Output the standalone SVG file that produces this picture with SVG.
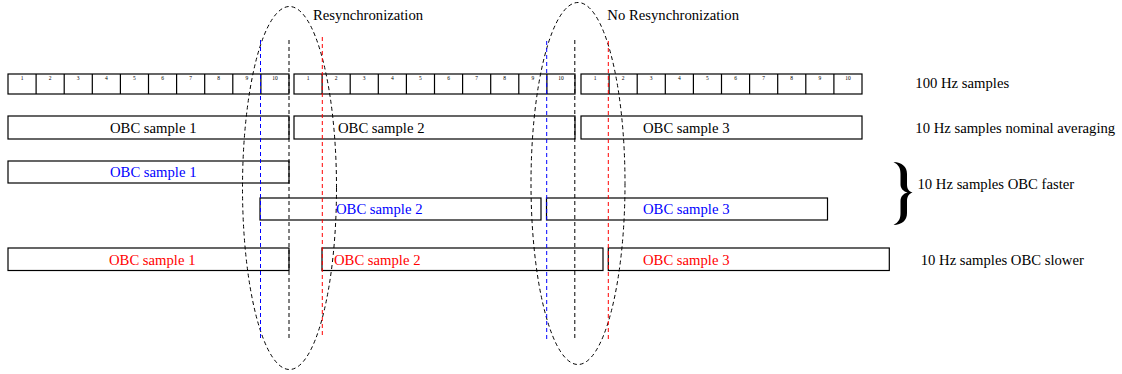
<svg xmlns="http://www.w3.org/2000/svg" width="1122" height="374" viewBox="0 0 1122 374">
<style>
.bx{fill:none;stroke:#000;stroke-width:1.2}
.cell{fill:none;stroke:#000;stroke-width:1.2}
.num{font-family:"Liberation Serif",serif;font-size:5.5px;text-anchor:middle;fill:#000}
.lbl{font-family:"Liberation Serif",serif;font-size:14.7px;fill:#000}
.blue{fill:#0000ff}
.red{fill:#ff0000}
.dk{fill:none;stroke:#000;stroke-width:1;stroke-dasharray:4 3}
.db{fill:none;stroke:#0000ff;stroke-width:1;stroke-dasharray:4 3}
.dr{fill:none;stroke:#ff0000;stroke-width:1;stroke-dasharray:4 3}
</style>
<rect width="1122" height="374" fill="#fff"/>
<g id="samples100-1">
<rect class="cell" x="8" y="74" width="281" height="20"/>
<path class="cell" d="M36.1,74v20M64.2,74v20M92.3,74v20M120.4,74v20M148.5,74v20M176.6,74v20M204.7,74v20M232.8,74v20M260.9,74v20"/>
<text class="num" x="22" y="79.5">1</text><text class="num" x="50.1" y="79.5">2</text><text class="num" x="78.2" y="79.5">3</text><text class="num" x="106.3" y="79.5">4</text><text class="num" x="134.4" y="79.5">5</text><text class="num" x="162.5" y="79.5">6</text><text class="num" x="190.6" y="79.5">7</text><text class="num" x="218.7" y="79.5">8</text><text class="num" x="246.8" y="79.5">9</text><text class="num" x="274.9" y="79.5">10</text>
</g>
<g id="samples100-2">
<rect class="cell" x="294" y="74" width="281" height="20"/>
<path class="cell" d="M322.1,74v20M350.2,74v20M378.3,74v20M406.4,74v20M434.5,74v20M462.6,74v20M490.7,74v20M518.8,74v20M546.9,74v20"/>
<text class="num" x="308" y="79.5">1</text><text class="num" x="336.1" y="79.5">2</text><text class="num" x="364.2" y="79.5">3</text><text class="num" x="392.3" y="79.5">4</text><text class="num" x="420.4" y="79.5">5</text><text class="num" x="448.5" y="79.5">6</text><text class="num" x="476.6" y="79.5">7</text><text class="num" x="504.7" y="79.5">8</text><text class="num" x="532.8" y="79.5">9</text><text class="num" x="560.9" y="79.5">10</text>
</g>
<g id="samples100-3">
<rect class="cell" x="581" y="74" width="281" height="20"/>
<path class="cell" d="M609.1,74v20M637.2,74v20M665.3,74v20M693.4,74v20M721.5,74v20M749.6,74v20M777.7,74v20M805.8,74v20M833.9,74v20"/>
<text class="num" x="595" y="79.5">1</text><text class="num" x="623.1" y="79.5">2</text><text class="num" x="651.2" y="79.5">3</text><text class="num" x="679.3" y="79.5">4</text><text class="num" x="707.4" y="79.5">5</text><text class="num" x="735.5" y="79.5">6</text><text class="num" x="763.6" y="79.5">7</text><text class="num" x="791.7" y="79.5">8</text><text class="num" x="819.8" y="79.5">9</text><text class="num" x="847.9" y="79.5">10</text>
</g>
<g id="nominal-1"><rect class="bx" x="8" y="116" width="281" height="23"/><text class="lbl" x="110" y="133">OBC sample 1</text></g>
<g id="nominal-2"><rect class="bx" x="294" y="116" width="281" height="23"/><text class="lbl" x="338" y="133">OBC sample 2</text></g>
<g id="nominal-3"><rect class="bx" x="581" y="116" width="281" height="23"/><text class="lbl" x="643" y="133">OBC sample 3</text></g>
<g id="faster-1"><rect class="bx" x="8" y="161" width="281" height="22"/><text class="lbl blue" x="110" y="177">OBC sample 1</text></g>
<g id="faster-2"><rect class="bx" x="260" y="198" width="281" height="22"/><text class="lbl blue" x="336" y="214.3">OBC sample 2</text></g>
<g id="faster-3"><rect class="bx" x="546.5" y="198" width="281" height="22"/><text class="lbl blue" x="643" y="214.3">OBC sample 3</text></g>
<g id="slower-1"><rect class="bx" x="8" y="248" width="281" height="22.5"/><text class="lbl red" x="109" y="264.5">OBC sample 1</text></g>
<g id="slower-2"><rect class="bx" x="322" y="248" width="281" height="22.5"/><text class="lbl red" x="334" y="264.5">OBC sample 2</text></g>
<g id="slower-3"><rect class="bx" x="608.3" y="248" width="281" height="22.5"/><text class="lbl red" x="643" y="264.5">OBC sample 3</text></g>
<g id="connectors">
<ellipse class="dk" cx="289.5" cy="188" rx="47" ry="181.5"/>
<ellipse class="dk" cx="578" cy="183.5" rx="47" ry="181"/>
<line class="db" x1="260.5" y1="40" x2="260.5" y2="341"/>
<line class="dk" x1="289" y1="40" x2="289" y2="341"/>
<line class="dr" x1="322.3" y1="37" x2="322.3" y2="338"/>
<line class="db" x1="546.7" y1="41" x2="546.7" y2="341"/>
<line class="dk" x1="574.8" y1="40" x2="574.8" y2="341"/>
<line class="dr" x1="608.3" y1="41" x2="608.3" y2="341"/>
</g>
<g id="titles">
<text class="lbl" x="313" y="19.5">Resynchronization</text>
<text class="lbl" x="607.3" y="19.5">No Resynchronization</text>
</g>
<g id="legend">
<text class="lbl" x="915.3" y="87.5">100 Hz samples</text>
<text class="lbl" x="915.3" y="133.3">10 Hz samples nominal averaging</text>
<path d="M893.5,162 C902,162.5 907,166.5 907,174 L907,184.5 C907,189 909,191.5 912.5,192.5 C909,193.8 907,196.5 907,201 L907,213 C907,220.5 902,224.5 893.5,225 C899,222 900.5,218.5 900.5,213 L900.5,201 C900.5,196.5 903.5,193.5 907.5,192.5 C903.5,191.5 900.5,188.5 900.5,184.5 L900.5,174 C900.5,168.5 899,165 893.5,162 Z" fill="#000"/>
<text class="lbl" x="917.5" y="188.5">10 Hz samples OBC faster</text>
<text class="lbl" x="920.7" y="265">10 Hz samples OBC slower</text>
</g>
</svg>
